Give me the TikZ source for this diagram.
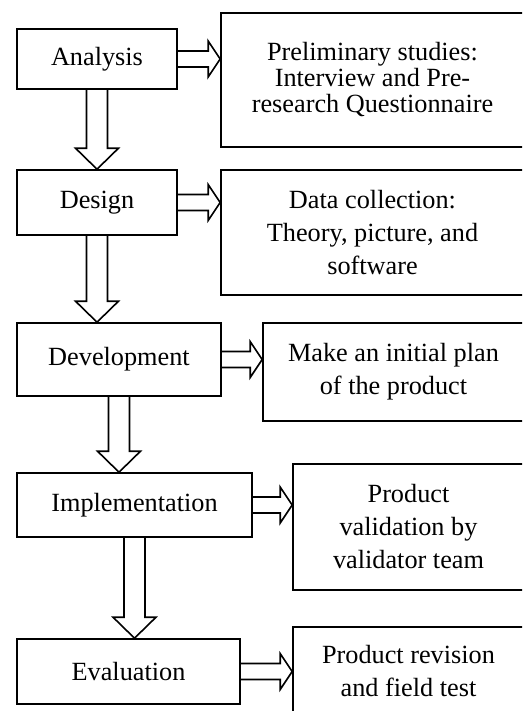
\documentclass[tikz,border=0pt]{standalone}
\usepackage{fontspec}
\setmainfont{Liberation Serif}
\usetikzlibrary{calc}

\tikzset{stage/.style={draw, line width=1.2pt, inner sep=0pt, align=center,
    font=\fontsize{19.7}{24.75}\selectfont},
  size/.style 2 args={minimum width=#1*0.75pt, minimum height=#2*0.75pt},
  blockline/.style={line width=1.2pt, line join=miter}}

\newcommand{\sidearrow}[2]{%
  \coordinate (tip) at (#1.east -| #2.west);
  \draw[blockline] ($(#1.east)+(0,-8)$) -- ($(tip)+(-12,-8)$) -- ++(0,-10) -- (tip)
    -- ($(tip)+(-12,18)$) -- ++(0,-10) -- ($(#1.east)+(0,8)$);}
\newcommand{\dnarrow}[2]{%
  \coordinate (tip) at (#1.south |- #2.north);
  \draw[blockline] ($(#1.south)+(-10.5,0)$) -- ($(tip)+(-10.5,-21)$) -- ++(-11,0) -- (tip)
    -- ($(tip)+(21.5,-21)$) -- ++(-11,0) -- ($(#1.south)+(10.5,0)$);}

\begin{document}
\begin{tikzpicture}[x=0.75pt,y=-0.75pt]

      \useasboundingbox (0,0) rectangle (522,711);
      \clip (0,0) rectangle (522,711);

      \node[stage, size={160}{60}] (analysis) at (97,59) {Analysis};
      \node[stage, size={160}{65}] (design) at (97,202.5) {Design};
      \node[stage, size={204}{73}] (development) at (119,359.5) {Development};
      \node[stage, size={235}{64}] (implementation) at (134.5,505) {Implementation};
      \node[stage, size={223}{65}] (evaluation) at (128.5,671.5) {Evaluation};

      \node[stage, size={303}{134},
        font=\fontsize{19.7}{19.5}\selectfont] (studies) at (372.5,80)
        {Preliminary studies:\\Interview and Pre-\\research Questionnaire};
      \node[stage, size={303}{125}] (collection) at (372.5,232.5)
        {Data collection:\\Theory, picture, and\\software};
      \node[stage, size={261}{98}] (plan) at (393.5,372)
        {Make an initial plan\\of the product};
      \node[stage, size={231}{126}] (validation) at (408.5,527)
        {Product\\validation by\\validator team};
      \node[stage, size={231}{88}] (revision) at (408.5,671)
        {Product revision\\and field test};

      \sidearrow{analysis}{studies}
      \sidearrow{design}{collection}
      \sidearrow{development}{plan}
      \sidearrow{implementation}{validation}
      \sidearrow{evaluation}{revision}

      \dnarrow{analysis}{design}
      \dnarrow{design}{development}
      \dnarrow{development}{implementation}
      \dnarrow{implementation}{evaluation}
    \end{tikzpicture}
\end{document}
